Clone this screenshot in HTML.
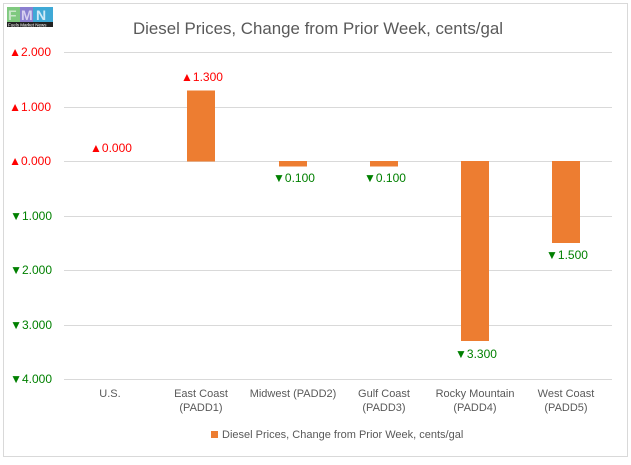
<!DOCTYPE html>
<html><head><style>
body{margin:0;background:#fff}
</style></head><body>
<svg width="631" height="460" xmlns="http://www.w3.org/2000/svg" font-family="Liberation Sans, sans-serif">
<rect x="0" y="0" width="631" height="460" fill="#fff"/>
<rect x="3.5" y="3.5" width="624" height="453" fill="none" stroke="#d9d9d9"/>
<rect x="7" y="7" width="13" height="15" fill="#7fc97f"/>
<rect x="20" y="7" width="13" height="15" fill="#8a7fd0"/>
<rect x="33" y="7" width="20" height="15" fill="#3fa9d6"/>
<text x="8" y="20" font-size="14" font-weight="bold" fill="#c8e6c8">F</text>
<text x="21" y="20" font-size="14" font-weight="bold" fill="#d8d0f0">M</text>
<text x="36" y="20" font-size="14" font-weight="bold" fill="#cfeaf7">N</text>
<rect x="7" y="22" width="46" height="5" fill="#222"/>
<text x="8" y="26.5" font-size="4.5" fill="#fff">Fuels Market News</text>
<text x="318" y="34" font-size="17" fill="#595959" text-anchor="middle" textLength="370" lengthAdjust="spacingAndGlyphs">Diesel Prices, Change from Prior Week, cents/gal</text>
<g stroke="#d9d9d9" stroke-width="1">
<line x1="64" x2="612" y1="52.5" y2="52.5"/>
<line x1="64" x2="612" y1="107.5" y2="107.5"/>
<line x1="64" x2="612" y1="161.5" y2="161.5"/>
<line x1="64" x2="612" y1="216.5" y2="216.5"/>
<line x1="64" x2="612" y1="270.5" y2="270.5"/>
<line x1="64" x2="612" y1="325.5" y2="325.5"/>
<line x1="64" x2="612" y1="379.5" y2="379.5"/>
</g>
<g font-size="12" text-anchor="end">
<text x="51" y="56" fill="#ff0000">▲2.000</text>
<text x="51" y="111" fill="#ff0000">▲1.000</text>
<text x="51" y="165" fill="#ff0000">▲0.000</text>
<text x="52" y="220" fill="#008000">▼1.000</text>
<text x="52" y="274" fill="#008000">▼2.000</text>
<text x="52" y="329" fill="#008000">▼3.000</text>
<text x="52" y="383" fill="#008000">▼4.000</text>
</g>
<g fill="#ed7d31">
<rect x="187" y="90.5" width="28" height="71"/>
<rect x="279" y="161" width="28" height="5.5"/>
<rect x="370" y="161" width="28" height="5.5"/>
<rect x="461" y="161" width="28" height="180"/>
<rect x="552" y="161" width="28" height="82"/>
</g>
<g font-size="12" text-anchor="middle">
<text x="111" y="152" fill="#ff0000">▲0.000</text>
<text x="202" y="81" fill="#ff0000">▲1.300</text>
<text x="294" y="182" fill="#008000">▼0.100</text>
<text x="385" y="182" fill="#008000">▼0.100</text>
<text x="476" y="358" fill="#008000">▼3.300</text>
<text x="567" y="259" fill="#008000">▼1.500</text>
</g>
<g font-size="11" fill="#595959" text-anchor="middle">
<text x="110" y="397">U.S.</text>
<text x="201" y="397">East Coast</text><text x="201" y="411">(PADD1)</text>
<text x="293" y="397">Midwest (PADD2)</text>
<text x="384" y="397">Gulf Coast</text><text x="384" y="411">(PADD3)</text>
<text x="475" y="397">Rocky Mountain</text><text x="475" y="411">(PADD4)</text>
<text x="566" y="397">West Coast</text><text x="566" y="411">(PADD5)</text>
</g>
<rect x="211" y="431" width="7" height="7" fill="#ed7d31"/>
<text x="222" y="438" font-size="11" fill="#595959">Diesel Prices, Change from Prior Week, cents/gal</text>
</svg>
</body></html>
